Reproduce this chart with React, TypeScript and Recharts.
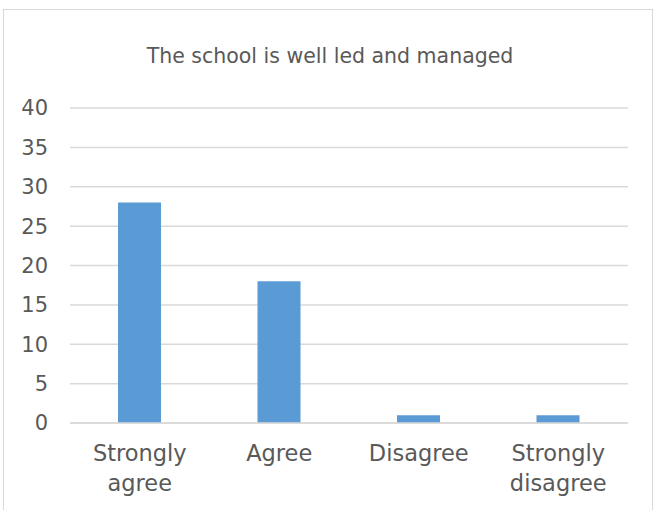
import { Bar, BarChart, CartesianGrid, XAxis, YAxis } from "recharts";

const categories = ["Strongly agree", "Agree", "Disagree", "Strongly disagree"];
const responses = [28, 18, 1, 1];
const yTicks = [0, 5, 10, 15, 20, 25, 30, 35, 40];
const title = "The school is well led and managed";

const FONT = "'DejaVu Sans', sans-serif";
const TEXT = "#595959";

const data = categories.map((c, i) => ({ name: c, value: responses[i] }));

// wraps two-word labels the way the original chart does
function CategoryTick(props: any) {
  const { x, y, payload } = props;
  const words = String(payload.value).split(" ");
  const lines = words.length > 1 ? [words[0], words.slice(1).join(" ")] : words;
  return (
    <text
      x={x}
      y={y}
      textAnchor="middle"
      fill={TEXT}
      fontSize={22.5}
      fontFamily={FONT}
    >
      {lines.map((l, i) => (
        <tspan key={i} x={x} dy={i === 0 ? 30 : 30}>
          {l}
        </tspan>
      ))}
    </text>
  );
}

export default function App() {
  return (
    <div
      style={{
        position: "fixed",
        left: 0,
        top: 0,
        width: 660,
        height: 510,
        overflow: "hidden",
        background: "#ffffff",
      }}
    >
      <div
        style={{
          position: "absolute",
          left: 3,
          top: 9,
          width: 648,
          height: 560,
          border: "1px solid #d9d9d9",
        }}
      />
      <div
        style={{
          position: "absolute",
          left: 0,
          top: 44,
          width: 660,
          textAlign: "center",
          fontFamily: FONT,
          fontSize: 20.5,
          color: TEXT,
        }}
      >
        {title}
      </div>
      <div style={{ position: "absolute", left: 0, top: 0 }}>
        <BarChart
          width={660}
          height={510}
          data={data}
          margin={{ top: 108, right: 32, left: 10, bottom: 27 }}
        >
          <CartesianGrid vertical={false} stroke="#d9d9d9" strokeWidth={1.5} />
          <XAxis
            dataKey="name"
            axisLine={{ stroke: "#d9d9d9", strokeWidth: 1.5 }}
            tickLine={false}
            height={60}
            interval={0}
            tick={<CategoryTick />}
          />
          <YAxis
            width={60}
            domain={[0, 40]}
            ticks={yTicks}
            axisLine={false}
            tickLine={false}
            tickSize={0}
            tickMargin={22}
            tick={{ fill: TEXT, fontSize: 21, fontFamily: FONT }}
          />
          <Bar
            dataKey="value"
            fill="#5b9bd5"
            barSize={43}
            isAnimationActive={false}
          />
        </BarChart>
      </div>
    </div>
  );
}
